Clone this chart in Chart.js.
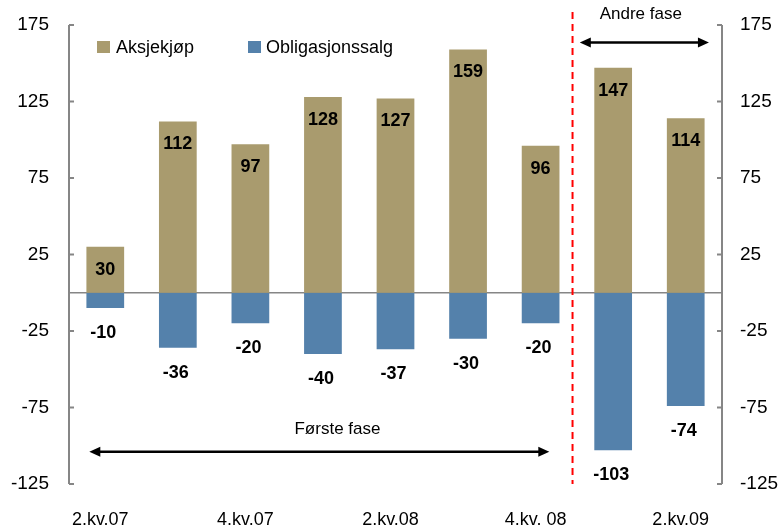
<!DOCTYPE html>
<html>
<head>
<meta charset="utf-8">
<script src="https://cdn.jsdelivr.net/npm/chart.js@4"></script>
<style>
html,body{margin:0;padding:0;background:#fff;}
#wrap{width:778px;height:530px;position:relative;}
</style>
</head>
<body>
<div id="wrap"><canvas id="c" width="778" height="530"></canvas></div>
<script>
const categories = ['2.kv.07','3.kv.07','4.kv.07','1.kv.08','2.kv.08','3.kv.08','4.kv. 08','1.kv.09','2.kv.09'];
const aksjekjop = [30,112,97,128,127,159,96,147,114];
const obligasjonssalg = [-10,-36,-20,-40,-37,-30,-20,-103,-74];
const yTicks = [-125,-75,-25,25,75,125,175];
const seriesNames = ['Aksjekjøp','Obligasjonssalg'];
const phaseLabels = ['Første fase','Andre fase'];

const GOLD = '#A99B6E';
const BLUE = '#5481AB';
const AXIS = '#868686';
const FONT = '"Liberation Sans", Arial, sans-serif';

function arrow(ctx, x1, x2, y){
  ctx.save();
  ctx.strokeStyle = '#000'; ctx.fillStyle = '#000'; ctx.lineWidth = 2.5;
  ctx.beginPath(); ctx.moveTo(x1+8, y); ctx.lineTo(x2-8, y); ctx.stroke();
  ctx.beginPath(); ctx.moveTo(x1, y); ctx.lineTo(x1+11, y-5); ctx.lineTo(x1+11, y+5); ctx.closePath(); ctx.fill();
  ctx.beginPath(); ctx.moveTo(x2, y); ctx.lineTo(x2-11, y-5); ctx.lineTo(x2-11, y+5); ctx.closePath(); ctx.fill();
  ctx.restore();
}

const decor = {
  id: 'decor',
  beforeDatasetsDraw(chart){
    const {ctx, chartArea:a, scales:{y}} = chart;
    ctx.save();
    const y0 = y.getPixelForValue(0);
    ctx.strokeStyle = AXIS; ctx.lineWidth = 1.5;
    ctx.beginPath(); ctx.moveTo(a.left, y0); ctx.lineTo(a.right, y0); ctx.stroke();
    ctx.restore();
  },
  afterDatasetsDraw(chart){
    const {ctx, chartArea:a, scales:{x, y}} = chart;
    ctx.save();
    ctx.strokeStyle = AXIS; ctx.lineWidth = 2;
    ctx.beginPath();
    ctx.moveTo(a.left, y.getPixelForValue(175)); ctx.lineTo(a.left, y.getPixelForValue(-125));
    ctx.moveTo(a.right, y.getPixelForValue(175)); ctx.lineTo(a.right, y.getPixelForValue(-125));
    yTicks.forEach(t => {
      const py = y.getPixelForValue(t);
      ctx.moveTo(a.left, py); ctx.lineTo(a.left+5, py);
      ctx.moveTo(a.right-5, py); ctx.lineTo(a.right, py);
    });
    ctx.stroke();

    ctx.fillStyle = '#000';
    ctx.font = 'bold 18px ' + FONT;
    ctx.textAlign = 'center'; ctx.textBaseline = 'middle';
    chart.getDatasetMeta(0).data.forEach((bar, i) => {
      ctx.fillText(String(aksjekjop[i]), bar.x, bar.y + 23);
    });
    chart.getDatasetMeta(1).data.forEach((bar, i) => {
      ctx.fillText(String(obligasjonssalg[i]), bar.x - 2, bar.y + 25);
    });

    ctx.font = '18px ' + FONT;
    ctx.textAlign = 'left';
    ctx.fillStyle = GOLD; ctx.fillRect(97, 41, 13, 12);
    ctx.fillStyle = BLUE; ctx.fillRect(248, 41, 13, 12);
    ctx.fillStyle = '#000';
    ctx.fillText(seriesNames[0], 116, 48);
    ctx.fillText(seriesNames[1], 266, 48);

    const c0 = x.getPixelForValue(0);
    const sp = x.getPixelForValue(1) - c0;
    const px = v => c0 + v * sp;
    ctx.strokeStyle = '#FF0000'; ctx.lineWidth = 2; ctx.setLineDash([7,5]);
    const xd = px(6.44);
    ctx.beginPath(); ctx.moveTo(xd, 12); ctx.lineTo(xd, y.getPixelForValue(-125)); ctx.stroke();
    ctx.setLineDash([]);
    arrow(ctx, px(6.54), px(8.32), y.getPixelForValue(163.5));
    arrow(ctx, px(-0.22), px(6.12), y.getPixelForValue(-104));
    ctx.fillStyle = '#000';
    ctx.font = '17px ' + FONT;
    ctx.textAlign = 'center';
    ctx.fillText(phaseLabels[1], px(7.38), y.getPixelForValue(182));
    ctx.fillText(phaseLabels[0], px(3.2), y.getPixelForValue(-89));
    ctx.restore();
  }
};

new Chart(document.getElementById('c'), {
  type: 'bar',
  data: {
    labels: categories,
    datasets: [
      {label: seriesNames[0], data: aksjekjop, backgroundColor: GOLD, borderWidth: 0, yAxisID: 'y'},
      {label: seriesNames[1], data: obligasjonssalg, backgroundColor: BLUE, borderWidth: 0, yAxisID: 'y'}
    ]
  },
  options: {
    responsive: false,
    animation: false,
    devicePixelRatio: 1,
    layout: {padding: {top: 25, left: 0, right: 0, bottom: 0}},
    plugins: {legend: {display: false}, tooltip: {enabled: false}},
    datasets: {bar: {categoryPercentage: 1, barPercentage: 0.52}},
    scales: {
      x: {
        stacked: true,
        grid: {display: false}, border: {display: false},
        afterFit(s){ s.height = 46; },
        ticks: {
          autoSkip: false, maxRotation: 0, padding: 17, labelOffset: -5, color: '#000',
          font: {family: FONT, size: 18},
          callback(v, i){ return i % 2 === 0 ? categories[i] : ''; }
        }
      },
      y: {
        stacked: true, position: 'left', min: -125, max: 175,
        grid: {display: false}, border: {display: false},
        afterFit(s){ s.width = 69; },
        afterBuildTicks(s){ s.ticks = yTicks.map(v => ({value: v})); },
        ticks: {padding: 12, color: '#000', font: {family: FONT, size: 19}}
      },
      y2: {
        position: 'right', min: -125, max: 175,
        grid: {display: false}, border: {display: false},
        afterFit(s){ s.width = 56; },
        afterBuildTicks(s){ s.ticks = yTicks.map(v => ({value: v})); },
        ticks: {padding: 10, color: '#000', font: {family: FONT, size: 19}}
      }
    }
  },
  plugins: [decor]
});
</script>
</body>
</html>
